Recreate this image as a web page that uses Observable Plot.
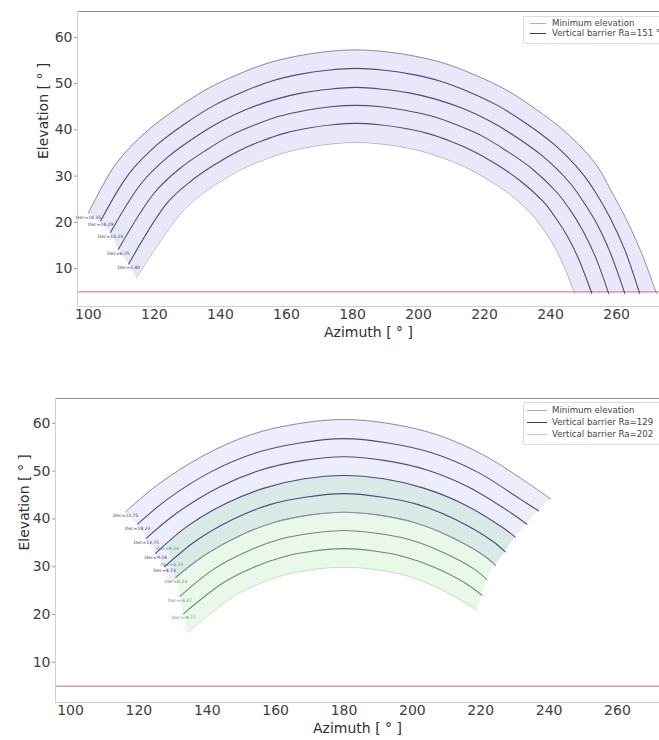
<!DOCTYPE html>
<html>
<head>
<meta charset="utf-8">
<script src="https://cdn.jsdelivr.net/npm/d3@7"></script>
<script src="https://cdn.jsdelivr.net/npm/@observablehq/plot@0.6"></script>
<style>
  html, body { margin: 0; padding: 0; background: #fff; }
  body { width: 659px; height: 740px; overflow: hidden; position: relative; font-family: "DejaVu Sans", sans-serif; }
  #top, #bottom { position: absolute; left: 0; }
  #top { top: 0; }
  #bottom { top: 345px; }
  .legend { position: absolute; background: #fff; border: 1px solid #dcdcdc; border-radius: 2px; box-sizing: border-box; }
  .sw { position: absolute; height: 0; border-top: 1.3px solid; }
  .lt { position: absolute; color: #444; white-space: nowrap; line-height: 1; }
</style>
</head>
<body>
<div id="top"></div>
<div id="bottom"></div>

<div class="legend" style="left:523px; top:16px; width:150px; height:28px;"></div>
<div class="sw" style="left:530px; top:23px; width:16px; border-color:#e39c9c;"></div>
<div class="lt" style="left:552px; top:18.5px; font-size:8.6px;">Minimum elevation</div>
<div class="sw" style="left:530px; top:33px; width:16px; border-color:#3a3a72;"></div>
<div class="lt" style="left:552px; top:28.5px; font-size:8.6px;">Vertical barrier Ra=151 °</div>

<div class="legend" style="left:523px; top:402px; width:150px; height:43px;"></div>
<div class="sw" style="left:527px; top:410px; width:20px; border-color:#d99aa4;"></div>
<div class="lt" style="left:552px; top:405.5px; font-size:8.6px;">Minimum elevation</div>
<div class="sw" style="left:527px; top:422px; width:20px; border-color:#3a3a72;"></div>
<div class="lt" style="left:552px; top:417.5px; font-size:8.6px;">Vertical barrier Ra=129</div>
<div class="sw" style="left:527px; top:434px; width:20px; border-color:#a9dca9;"></div>
<div class="lt" style="left:552px; top:429.5px; font-size:8.6px;">Vertical barrier Ra=202</div>

<script>
// ---------- shared ----------
const xTicks = [100, 120, 140, 160, 180, 200, 220, 240, 260];
const yTicks = [10, 20, 30, 40, 50, 60];
const minElevation = 5;

// ---------- top panel (Ra = 151°) ----------
const topAzDomain = [96.7, 273];
const topElDomain = [1.8, 65.6];
const topLabels = ["Dec=18.35", "Dec=14.29", "Dec=10.23", "Dec=6.25", "Dec=2.40"];

const top1Az = [100.0,108.4,117.4,126.5,135.6,144.7,153.8,162.8,171.9,181,190.1,199.2,208.2,217.3,226.4,235.5,244.6,253.6,258.2,262.7,267.3,272.1];
const top1El = [22.0,32.7,39.5,44.5,48.7,51.8,54.3,55.9,56.9,57.3,56.9,55.9,54.3,51.8,48.7,44.5,39.5,32.7,27.0,21.0,13.8,4.6];
const top2Az = [103.7,112.4,121.0,129.6,138.1,146.7,155.3,163.9,172.4,181,189.6,198.1,206.7,215.3,223.9,232.4,241.0,249.6,253.8,258.1,262.4,267.0];
const top2El = [20.3,30.6,36.9,41.5,45.3,48.2,50.5,52.0,52.9,53.3,52.9,52.0,50.5,48.2,45.3,41.5,36.9,30.6,26.3,20.9,14.2,4.6];
const top3Az = [106.7,116.0,124.2,132.3,140.4,148.5,156.6,164.8,172.9,181,189.1,197.2,205.4,213.5,221.6,229.7,237.8,246.0,250.0,254.1,258.1,262.5];
const top3El = [17.8,28.4,34.2,38.4,41.9,44.6,46.6,48.0,48.8,49.2,48.8,48.0,46.6,44.6,41.9,38.4,34.2,28.4,24.4,19.6,13.4,4.6];
const top4Az = [109.1,120.0,127.6,135.2,142.8,150.5,158.1,165.7,173.4,181,188.6,196.3,203.9,211.5,219.2,226.8,234.4,242.0,245.9,249.7,253.5,257.6];
const top4El = [14.2,26.4,31.6,35.4,38.7,41.1,43.0,44.2,45.0,45.3,45.0,44.2,43.0,41.1,38.7,35.4,31.6,26.4,22.7,18.3,12.7,4.6];
const top5Az = [112.2,124.0,131.2,138.3,145.4,152.5,159.6,166.8,173.9,181,188.1,195.2,202.4,209.5,216.6,223.7,230.8,238.0,241.5,245.1,248.6,252.5];
const top5El = [11.0,24.3,29.0,32.5,35.4,37.6,39.3,40.4,41.1,41.4,41.1,40.4,39.3,37.6,35.4,32.5,29.0,24.3,21.0,17.0,11.9,4.6];
const topEdgeAz = [114.5,128.2,134.8,141.4,148.0,154.6,161.2,167.8,174.4,181,187.6,194.2,200.8,207.4,214.0,220.6,227.2,233.8,237.1,240.4,243.7,247.3];
const topEdgeEl = [8.0,22.1,26.3,29.4,32.0,33.9,35.4,36.4,37.0,37.3,37.0,36.4,35.4,33.9,32.0,29.4,26.3,22.1,19.2,15.7,11.1,4.6];

// ---------- bottom panel (Ra = 129 blue, Ra = 202 green) ----------
const botAzDomain = [95.6, 272.3];
const botElDomain = [1.6, 65.2];
const blueLabels = ["Dec=22.75", "Dec=18.23", "Dec=13.75", "Dec=9.24", "Dec=4.73"];
const greenLabels = ["Dec=9.24", "Dec=4.73", "Dec=0.23", "Dec=-4.27", "Dec=-8.77"];

const b1Az = [116.1,125.4,139.0,152.7,166.3,180,193.7,207.3,221.0,234.6,240.4];
const b1El = [41.5,47.1,53.3,57.6,59.9,60.8,59.9,57.6,53.3,47.1,44.2];
const b2Az = [119.6,128.3,141.2,154.1,167.1,180,192.9,205.9,218.8,231.7,236.9];
const b2El = [38.9,44.1,49.9,53.8,55.9,56.8,55.9,53.8,49.9,44.1,41.7];
const b3Az = [122.2,131.0,143.3,155.5,167.8,180,192.2,204.5,216.7,229.0,233.5];
const b3El = [36.0,41.2,46.6,50.2,52.2,53.0,52.2,50.2,46.6,41.2,38.9];
const b4Az = [124.9,133.8,145.3,156.9,168.4,180,191.6,203.1,214.7,226.2,230.1];
const b4El = [32.8,38.3,43.2,46.5,48.4,49.1,48.4,46.5,43.2,38.3,36.2];
const b5Az = [127.5,136.6,147.4,158.3,169.1,180,190.9,201.7,212.6,223.4,227.2];
const b5El = [30.0,35.4,39.9,43.0,44.6,45.3,44.6,43.0,39.9,35.4,33.1];
const bEdgeAz = [128.8,139.4,149.5,159.7,169.8,180,190.2,200.3,210.5,220.6,224.3];
const bEdgeEl = [26.5,32.5,36.5,39.3,40.8,41.4,40.8,39.3,36.5,32.5,30.3];

const g1Az = [128.4,133.8,145.3,156.9,168.4,180,191.6,203.1,214.7,226.2,230.1];
const g1El = [34.7,38.3,43.2,46.5,48.4,49.1,48.4,46.5,43.2,38.3,36.2];
const g2Az = [129.6,136.6,147.4,158.3,169.1,180,190.9,201.7,212.6,223.4,227.2];
const g2El = [31.4,35.4,39.9,43.0,44.6,45.3,44.6,43.0,39.9,35.4,33.1];
const g3Az = [130.8,139.4,149.5,159.7,169.8,180,190.2,200.3,210.5,220.6,224.3];
const g3El = [27.8,32.5,36.5,39.3,40.8,41.4,40.8,39.3,36.5,32.5,30.3];
const g4Az = [132.0,142.1,151.6,161.0,170.5,180,189.5,199.0,208.4,217.9,221.8];
const g4El = [23.8,29.6,33.2,35.7,37.0,37.6,37.0,35.7,33.2,29.6,27.3];
const g5Az = [133.1,144.8,153.6,162.4,171.2,180,188.8,197.6,206.4,215.2,220.4];
const g5El = [20.2,26.7,29.9,32.1,33.3,33.8,33.3,32.1,29.9,26.7,24.0];
const gEdgeAz = [134.2,147.7,155.7,163.8,171.9,180,188.1,196.2,204.3,212.3,218.9];
const gEdgeEl = [16.3,23.8,26.6,28.5,29.5,29.9,29.5,28.5,26.6,23.8,20.9];

// ---------- helpers ----------
const pts = (az, el) => az.map((a, i) => ({az: a, el: el[i]}));
const band = (a, b) => a.map((p, i) => ({x1: p.az, y1: p.el, x2: b[i].az, y2: b[i].el}));
const CURVE = "catmull-rom";
const FONT = "'DejaVu Sans', sans-serif";

function bandMarks(curves, fill, opacity) {
  const out = [];
  for (let i = 0; i < curves.length - 1; i++) {
    out.push(Plot.area(band(curves[i], curves[i + 1]), {
      x1: "x1", y1: "y1", x2: "x2", y2: "y2", curve: CURVE, fill, fillOpacity: opacity
    }));
  }
  return out;
}
function lineMark(c, stroke, width, opacity) {
  return Plot.line(c, {x: "az", y: "el", curve: CURVE, stroke, strokeWidth: width, strokeOpacity: opacity});
}
function labelMark(curves, labels, fill) {
  const data = curves.map((c, i) => ({az: c[0].az, el: c[0].el, label: labels[i]}));
  return Plot.text(data, {x: "az", y: "el", text: "label", fontSize: 4.5, dy: 4, fill, textAnchor: "middle"});
}
function frameMarks(xd, yd, ml) {
  return [
    Plot.ruleY([yd[1]], {stroke: "#8c8c8c", strokeWidth: 1.2}),
    Plot.ruleX([xd[0]], {stroke: "#cfcfcf", strokeWidth: 1}),
    Plot.ruleY([yd[0]], {stroke: "#cfcfcf", strokeWidth: 1}),
    Plot.axisX({ticks: xTicks, tickSize: 0, tickPadding: 3, label: null, fontSize: 14, fill: "#404040"}),
    Plot.axisY({ticks: yTicks, tickSize: 3, tickPadding: 2, label: null, fontSize: 14, fill: "#404040", stroke: "#999"}),
    Plot.text(["Azimuth [ ° ]"], {text: d => d, frameAnchor: "bottom", dy: 30, fontSize: 14, fill: "#303030"}),
    Plot.text(["Elevation [ ° ]"], {text: d => d, frameAnchor: "left", dx: -ml, rotate: -90, fontSize: 14, fill: "#303030"})
  ];
}

// ---------- top panel ----------
const tc = [pts(top1Az, top1El), pts(top2Az, top2El), pts(top3Az, top3El), pts(top4Az, top4El), pts(top5Az, top5El)];
const tEdge = pts(topEdgeAz, topEdgeEl);

const topPlot = Plot.plot({
  width: 659, height: 345,
  marginLeft: 77, marginRight: 0, marginTop: 11, marginBottom: 39,
  style: {fontFamily: FONT, fontSize: "14px", background: "white", overflow: "visible"},
  x: {domain: topAzDomain},
  y: {domain: topElDomain},
  marks: [
    ...bandMarks([...tc, tEdge], "#5a5ad8", 0.14),
    Plot.ruleY([minElevation], {stroke: "#e39c9c", strokeWidth: 1.6}),
    lineMark(tEdge, "#9a9ac8", 0.9, 0.8),
    lineMark(tc[0], "#7f7fa8", 1, 0.9),
    ...tc.slice(1).map(c => lineMark(c, "#30306c", 1.1, 0.85)),
    labelMark(tc, topLabels, "#35356e"),
    ...frameMarks(topAzDomain, topElDomain, 34)
  ]
});
document.getElementById("top").appendChild(topPlot);

// ---------- bottom panel ----------
const bc = [pts(b1Az, b1El), pts(b2Az, b2El), pts(b3Az, b3El), pts(b4Az, b4El), pts(b5Az, b5El)];
const bEdge = pts(bEdgeAz, bEdgeEl);
const gc = [pts(g1Az, g1El), pts(g2Az, g2El), pts(g3Az, g3El), pts(g4Az, g4El), pts(g5Az, g5El)];
const gEdge = pts(gEdgeAz, gEdgeEl);

const botPlot = Plot.plot({
  width: 659, height: 395,
  marginLeft: 55, marginRight: 0, marginTop: 53, marginBottom: 38,
  style: {fontFamily: FONT, fontSize: "14px", background: "white", overflow: "visible"},
  x: {domain: botAzDomain},
  y: {domain: botElDomain},
  marks: [
    ...bandMarks([...bc, bEdge], "#5a5ad8", 0.11),
    ...bandMarks([...gc, gEdge], "#52c852", 0.12),
    Plot.ruleY([minElevation], {stroke: "#e39c9c", strokeWidth: 1.6}),
    lineMark(gEdge, "#a9dca9", 0.9, 0.9),
    ...gc.slice(2).map(c => lineMark(c, "#4d6e5c", 1.1, 0.8)),
    lineMark(bEdge, "#9a9ac8", 0.9, 0.6),
    lineMark(bc[0], "#7f7fa8", 1, 0.9),
    ...bc.slice(1).map(c => lineMark(c, "#30306c", 1.1, 0.85)),
    labelMark(bc, blueLabels, "#35356e"),
    labelMark(gc, greenLabels, "#4e9a4e"),
    ...frameMarks(botAzDomain, botElDomain, 31)
  ]
});
document.getElementById("bottom").appendChild(botPlot);
</script>
</body>
</html>
